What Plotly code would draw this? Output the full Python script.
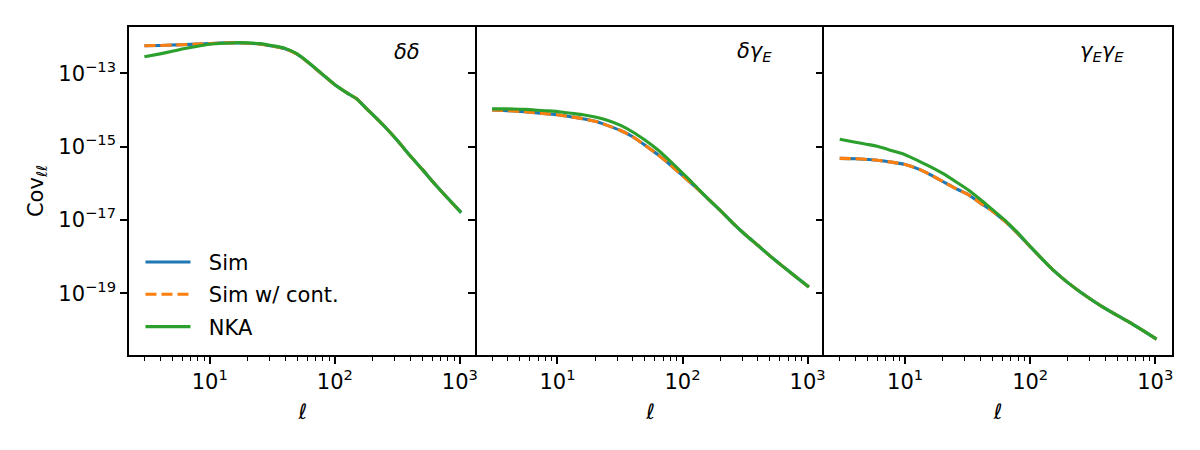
import plotly.graph_objects as go
from plotly.subplots import make_subplots

# multipole values (shared by all panels)
ell = [3, 4, 5, 6, 8, 10, 13, 16, 20, 25, 32, 40, 50, 63, 80, 100, 126, 150, 180,
       200, 250, 320, 400, 500, 630, 800, 1024]

# panel 1: delta-delta
dd_sim = [5.62e-13, 5.75e-13, 5.89e-13, 6.03e-13, 6.31e-13, 6.46e-13, 6.76e-13, 6.76e-13,
          6.61e-13, 6.31e-13, 5.50e-13, 4.68e-13, 3.31e-13, 1.82e-13, 9.12e-14, 4.90e-14,
          2.88e-14, 2.00e-14, 1.07e-14, 7.59e-15, 3.55e-15, 1.41e-15, 5.62e-16, 2.40e-16,
          9.55e-17, 3.89e-17, 1.58e-17]
dd_cont = [5.62e-13, 5.75e-13, 5.89e-13, 6.03e-13, 6.31e-13, 6.46e-13, 6.76e-13, 6.76e-13,
           6.61e-13, 6.31e-13, 5.50e-13, 4.68e-13, 3.31e-13, 1.82e-13, 9.12e-14, 4.90e-14,
           2.88e-14, 2.00e-14, 1.07e-14, 7.59e-15, 3.55e-15, 1.41e-15, 5.62e-16, 2.40e-16,
           9.55e-17, 3.89e-17, 1.58e-17]
dd_nka = [2.82e-13, 3.39e-13, 3.98e-13, 4.57e-13, 5.50e-13, 6.17e-13, 6.61e-13, 6.84e-13,
          6.76e-13, 6.46e-13, 5.62e-13, 4.79e-13, 3.39e-13, 1.86e-13, 9.33e-14, 4.90e-14,
          2.88e-14, 2.00e-14, 1.07e-14, 7.59e-15, 3.55e-15, 1.41e-15, 5.62e-16, 2.40e-16,
          9.55e-17, 3.89e-17, 1.58e-17]

# panel 2: delta-gamma_E
dg_sim = [1.00e-14, 9.55e-15, 9.12e-15, 8.71e-15, 7.94e-15, 7.41e-15, 6.46e-15, 5.75e-15,
          4.90e-15, 3.80e-15, 2.75e-15, 1.86e-15, 1.10e-15, 6.17e-16, 3.16e-16, 1.62e-16,
          8.13e-17, 4.68e-17, 2.57e-17, 1.82e-17, 8.51e-18, 3.89e-18, 2.04e-18, 1.05e-18,
          5.50e-19, 2.88e-19, 1.48e-19]
dg_cont = [1.00e-14, 9.55e-15, 9.12e-15, 8.71e-15, 7.94e-15, 7.41e-15, 6.46e-15, 5.75e-15,
           4.90e-15, 3.80e-15, 2.75e-15, 1.86e-15, 1.10e-15, 6.17e-16, 3.16e-16, 1.62e-16,
           8.13e-17, 4.68e-17, 2.57e-17, 1.82e-17, 8.51e-18, 3.89e-18, 2.04e-18, 1.05e-18,
           5.50e-19, 2.88e-19, 1.48e-19]
dg_nka = [1.07e-14, 1.07e-14, 1.05e-14, 1.02e-14, 9.55e-15, 9.12e-15, 8.13e-15, 7.41e-15,
          6.46e-15, 5.25e-15, 3.80e-15, 2.51e-15, 1.51e-15, 8.32e-16, 3.98e-16, 1.91e-16,
          8.71e-17, 4.68e-17, 2.57e-17, 1.82e-17, 8.51e-18, 3.89e-18, 2.04e-18, 1.05e-18,
          5.50e-19, 2.88e-19, 1.48e-19]

# panel 3: gamma_E-gamma_E
gg_sim = [4.79e-16, 4.68e-16, 4.47e-16, 4.27e-16, 3.72e-16, 3.24e-16, 2.40e-16, 1.70e-16,
          1.12e-16, 7.41e-17, 4.90e-17, 2.88e-17, 1.74e-17, 9.12e-18, 4.17e-18, 1.86e-18,
          8.32e-19, 4.57e-19, 2.63e-19, 1.95e-19, 1.10e-19, 6.17e-20, 3.80e-20, 2.45e-20,
          1.58e-20, 9.55e-21, 5.62e-21]
gg_cont = [4.79e-16, 4.68e-16, 4.47e-16, 4.27e-16, 3.72e-16, 3.24e-16, 2.40e-16, 1.70e-16,
           1.12e-16, 7.41e-17, 4.90e-17, 2.88e-17, 1.74e-17, 9.12e-18, 4.17e-18, 1.86e-18,
           8.32e-19, 4.57e-19, 2.63e-19, 1.95e-19, 1.10e-19, 6.17e-20, 3.80e-20, 2.45e-20,
           1.58e-20, 9.55e-21, 5.62e-21]
gg_nka = [1.58e-15, 1.32e-15, 1.15e-15, 1.02e-15, 7.59e-16, 6.03e-16, 3.98e-16, 2.82e-16,
          1.86e-16, 1.15e-16, 6.61e-17, 3.63e-17, 1.91e-17, 9.77e-18, 4.37e-18, 1.91e-18,
          8.32e-19, 4.57e-19, 2.63e-19, 1.95e-19, 1.10e-19, 6.17e-20, 3.80e-20, 2.45e-20,
          1.58e-20, 9.55e-21, 5.62e-21]

panel_labels = ["<i>δδ</i>", "<i>δγ<sub>E</sub></i>", "<i>γ<sub>E</sub>γ<sub>E</sub></i>"]
series_names = ["Sim", "Sim w/ cont.", "NKA"]
x_tickvals = [10, 100, 1000]
x_ticktext = ["10<sup>1</sup>", "10<sup>2</sup>", "10<sup>3</sup>"]
y_tickvals = [1e-13, 1e-15, 1e-17, 1e-19]
y_ticktext = ["10<sup>−13</sup>", "10<sup>−15</sup>", "10<sup>−17</sup>", "10<sup>−19</sup>"]

colors = ["#1f77b4", "#ff7f0e", "#2ca02c"]
FONT = "DejaVu Sans"
FS = 21

fig = make_subplots(rows=1, cols=3, shared_yaxes=True, horizontal_spacing=0)

panels = [(dd_sim, dd_cont, dd_nka), (dg_sim, dg_cont, dg_nka), (gg_sim, gg_cont, gg_nka)]
for i, data in enumerate(panels):
    for j, (vals, name) in enumerate(zip(data, series_names)):
        fig.add_trace(go.Scatter(
            x=ell, y=vals, mode="lines", name="\u00a0\u00a0" + name,
            line=dict(color=colors[j], width=3.1,
                      dash="11px,5px" if j == 1 else "solid",
                      shape="spline", smoothing=0.5),
            showlegend=(i == 0), legendgroup=name,
        ), row=1, col=i + 1)

minor_vals = [m * 10 ** k for k in range(0, 4) for m in range(2, 10)]

for i in range(3):
    fig.update_xaxes(
        type="log", range=[0.354, 3.134],
        tickvals=x_tickvals, ticktext=x_ticktext,
        ticks="outside", ticklen=7, tickwidth=1.6, tickcolor="black",
        minor=dict(tickvals=minor_vals, ticks="outside", ticklen=4,
                   tickwidth=1.2, tickcolor="black", showgrid=False),
        showline=True, linecolor="black", linewidth=1.6, mirror=True,
        showgrid=False, zeroline=False,
        tickfont=dict(family=FONT, size=FS, color="black"),
        title=dict(text="<i>ℓ</i>", font=dict(family=FONT, size=FS, color="black"),
                   standoff=11),
        row=1, col=i + 1)
    fig.update_yaxes(
        type="log", range=[-20.683, -11.737],
        tickvals=y_tickvals, ticktext=y_ticktext,
        ticks="outside", ticklen=7, tickwidth=1.6, tickcolor="black",
        showline=True, linecolor="black", linewidth=1.6, mirror=(i == 2),
        showgrid=False, zeroline=False,
        showticklabels=(i == 0),
        tickfont=dict(family=FONT, size=FS, color="black"),
        row=1, col=i + 1)
    fig.add_annotation(
        text=panel_labels[i], xref=f"x{'' if i == 0 else i + 1} domain",
        yref="y domain", x=0.8, y=0.924, xanchor="center", yanchor="middle",
        showarrow=False, font=dict(family=FONT, size=FS, color="black"))

fig.update_yaxes(title=dict(text="Cov<sub><i>ℓℓ</i></sub>",
                            font=dict(family=FONT, size=FS, color="black"),
                            standoff=9), row=1, col=1)

fig.update_layout(
    width=1200, height=450,
    margin=dict(l=129, r=28, t=27, b=95),
    paper_bgcolor="white", plot_bgcolor="white",
    font=dict(family=FONT, size=FS, color="black"),
    legend=dict(x=0.011, y=0.345, xanchor="left", yanchor="top",
                bgcolor="rgba(255,255,255,0)", borderwidth=0,
                font=dict(family=FONT, size=FS, color="black"),
                tracegroupgap=2, itemwidth=45, traceorder="grouped"),
)

fig.write_html("out.html")
